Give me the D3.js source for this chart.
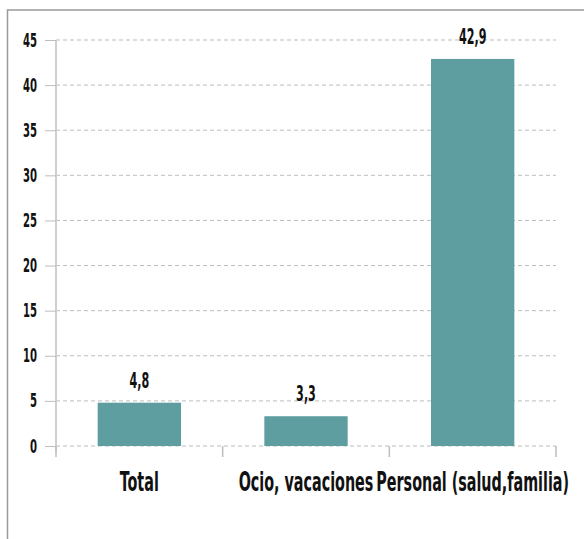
<!DOCTYPE html>
<html>
<head>
<meta charset="utf-8">
<script src="https://cdn.jsdelivr.net/npm/d3@7"></script>
<style>
  body { margin: 0; background: #fff; }
  svg text { font-family: "DejaVu Sans Condensed", "DejaVu Sans", sans-serif; font-weight: bold; fill: #111; }
</style>
</head>
<body>
<svg id="chart"></svg>
<script>
// datos
const categories = ["Total", "Ocio, vacaciones", "Personal (salud,familia)"];
const values = [4.8, 3.3, 42.9];
const yTicks = [0, 5, 10, 15, 20, 25, 30, 35, 40, 45];

const width = 584, height = 539;
const margin = { top: 40, right: 28, bottom: 93, left: 56 };
const squeeze = 0.59; // la fuente original es muy estrecha

const svg = d3.select("#chart").attr("width", width).attr("height", height);

function condense(sel) {
    sel.each(function () {
        const t = d3.select(this);
        const cx = +t.attr("x") || 0;
        t.attr("transform", `translate(${cx},0) scale(${squeeze},1) translate(${-cx},0)`);
    });
}

// marco
svg.append("rect")
    .attr("x", 7.5).attr("y", 10)
    .attr("width", width + 20).attr("height", height + 20)
    .attr("fill", "none")
    .attr("stroke", "#9a9a9a")
    .attr("stroke-width", 1.5);

const x = d3.scaleBand()
    .domain(categories)
    .range([margin.left, width - margin.right])
    .padding(0);

const y = d3.scaleLinear()
    .domain([0, 45])
    .range([height - margin.bottom, margin.top]);

// lineas de cuadricula
svg.append("g")
    .selectAll("line")
    .data(yTicks)
    .enter()
    .append("line")
    .attr("x1", margin.left)
    .attr("x2", width - margin.right)
    .attr("y1", d => y(d))
    .attr("y2", d => y(d))
    .attr("stroke", "#bdbdbd")
    .attr("stroke-dasharray", "4,3");

// eje y
const yAxis = svg.append("g")
    .attr("transform", `translate(${margin.left},0)`)
    .call(d3.axisLeft(y).tickValues(yTicks).tickSize(11).tickPadding(8));
yAxis.select(".domain").attr("stroke", "#cfcfcf").attr("stroke-width", 2)
    .attr("d", `M0,${y(45)}V${y(0) + 5}`);
yAxis.selectAll(".tick line").attr("stroke", "#bdbdbd");
yAxis.selectAll(".tick text").attr("font-size", 19).attr("fill", "#111").call(condense);

// eje x
const xAxis = svg.append("g")
    .attr("transform", `translate(0,${y(0)})`)
    .call(d3.axisBottom(x).tickSize(0).tickPadding(0));
xAxis.select(".domain").remove();
xAxis.selectAll(".tick text")
    .attr("font-size", 27).attr("fill", "#111")
    .attr("dy", null).attr("y", 45)
    .call(condense);

// separadores de categoria
const bounds = categories.map(c => x(c)).concat([x(categories[categories.length - 1]) + x.bandwidth()]);
svg.append("g")
    .selectAll("line")
    .data(bounds)
    .enter()
    .append("line")
    .attr("x1", d => d).attr("x2", d => d)
    .attr("y1", y(0)).attr("y2", y(0) + 11)
    .attr("stroke", "#bdbdbd")
    .attr("stroke-width", 1.5);

// barras
const barW = x.bandwidth() * 0.5;
svg.append("g")
    .selectAll("rect")
    .data(values)
    .enter()
    .append("rect")
    .attr("x", (d, i) => x(categories[i]) + (x.bandwidth() - barW) / 2)
    .attr("y", d => y(d))
    .attr("width", barW)
    .attr("height", d => y(0) - y(d))
    .attr("fill", "#5f9ea0");

// etiquetas de valor
svg.append("g")
    .selectAll("text")
    .data(values)
    .enter()
    .append("text")
    .attr("x", (d, i) => x(categories[i]) + x.bandwidth() / 2)
    .attr("y", d => y(d) - 15)
    .attr("text-anchor", "middle")
    .attr("font-size", 21)
    .text(d => d.toString().replace(".", ","))
    .call(condense);
</script>
</body>
</html>
